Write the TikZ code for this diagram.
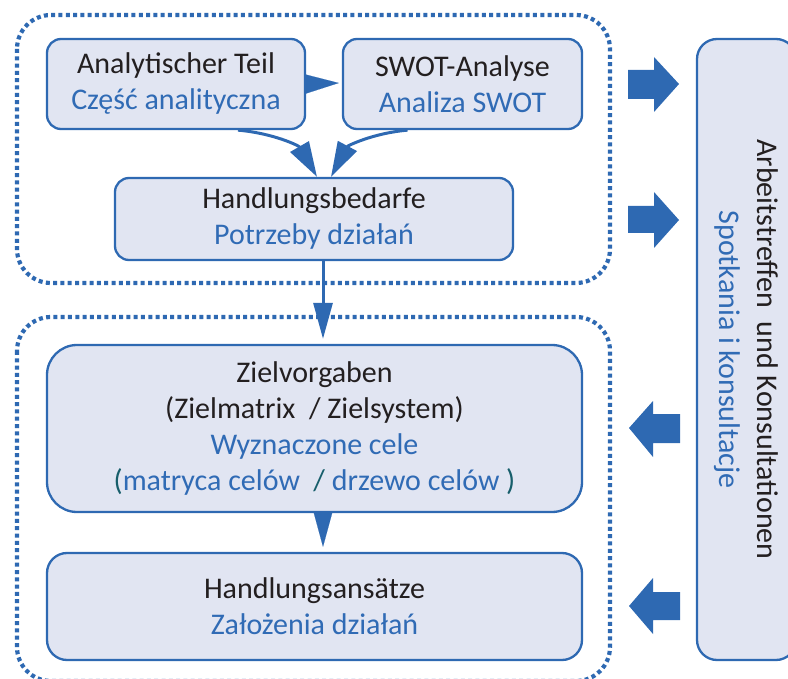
\documentclass[tikz,border=0pt]{standalone}
\usepackage{fontspec}
\setmainfont{Carlito}
\usetikzlibrary{arrows.meta}
\definecolor{bl}{RGB}{46,105,178}
\definecolor{boxfill}{RGB}{225,229,242}
\definecolor{tb}{RGB}{48,107,181}
\definecolor{txtdark}{RGB}{35,31,32}
\definecolor{tl}{RGB}{23,94,107}
\begin{document}
\begin{tikzpicture}[x=1pt,y=-1pt,
  box/.style={draw=bl, fill=boxfill, line width=2.3pt, rounded corners=14pt, align=center,
    font=\fontsize{30}{36}\selectfont, text=txtdark, inner sep=0pt},
  dotbox/.style={draw=bl, line width=4.2pt, dash pattern=on 4pt off 3.3pt, rounded corners=34pt},
  conn/.style={draw=bl, line width=3pt, -{Triangle[length=35pt,width=21pt]}},
  tri/.style={draw=bl, line width=0.1pt, -{Triangle[length=33pt,width=19pt]}},
  blockarrow/.style={fill=bl}
]
\useasboundingbox (0,0) rectangle (788,679);

% containers
\draw[dotbox] (17,15) rectangle (610,283);
\draw[dotbox] (17,317) rectangle (610,681);

% nodes
\node[box, minimum width=258pt, minimum height=90pt] (A) at (176,84)
  {Analytischer Teil\\\textcolor{tb}{Część analityczna}};
\node[box, minimum width=239pt, minimum height=90pt] (S) at (462.5,84)
  {SWOT-Analyse\\\textcolor{tb}{Analiza SWOT}};
\node[box, minimum width=398pt, minimum height=82pt] (H) at (314,219)
  {Handlungsbedarfe\\\textcolor{tb}{Potrzeby działań}};
\node[box, rounded corners=30pt, minimum width=535pt, minimum height=167pt] (Z) at (314.5,428.5)
  {Zielvorgaben\\(Zielmatrix\ \ /\ Zielsystem)\\\textcolor{tb}{Wyznaczone cele}\\
   \textcolor{tl}{(}\textcolor{tb}{matryca celów}\ \ \textcolor{tl}{/}\ \textcolor{tb}{drzewo celów}\ \textcolor{tl}{)}};
\node[box, rounded corners=20pt, minimum width=535pt, minimum height=107pt] (HA) at (314.5,606.5)
  {Handlungsansätze\\\textcolor{tb}{Założenia działań}};
\node[box, rounded corners=20pt, minimum width=99pt, minimum height=621pt] (R) at (746.5,349.5) {};
\node[rotate=-90, align=center, font=\fontsize{30}{38}\selectfont, text=txtdark] (RT) at (R.center)
  {Arbeitstreffen\ \ und Konsultationen\\\textcolor{tb}{Spotkania i konsultacje}};

% connectors
\draw[tri] (A.east) -- ([xshift=-3pt,yshift=1pt]S.west);
\draw[conn] ([xshift=62pt]A.south) to[out=-5, in=120] ([xshift=3pt]H.north);
\draw[conn] ([xshift=-55pt]S.south) to[out=185, in=62] ([xshift=17pt]H.north);
\draw[draw=bl, line width=3pt, -{Triangle[length=36pt,width=19pt]}]
  ([xshift=9pt]H.south) -- ([xshift=8.5pt,yshift=5pt]Z.north);
\draw[draw=bl, line width=0.1pt, -{Triangle[length=35pt,width=19pt]}]
  ([xshift=8.5pt]Z.south) -- ([xshift=8.5pt,yshift=5pt]HA.north);

% block arrows to / from the side panel
\fill[blockarrow] (628,70) -- (654,70) -- (654,57) -- (679,84) -- (654,112) -- (654,99) -- (628,99) -- cycle;
\fill[blockarrow] (628,206) -- (654,206) -- (654,192) -- (679,220) -- (654,248) -- (654,233) -- (628,233) -- cycle;
\fill[blockarrow] (680,414) -- (653,414) -- (653,401) -- (629,428) -- (653,457) -- (653,443) -- (680,443) -- cycle;
\fill[blockarrow] (680,592) -- (653,592) -- (653,578) -- (629,606) -- (653,634) -- (653,620) -- (680,620) -- cycle;
\end{tikzpicture}
\end{document}
